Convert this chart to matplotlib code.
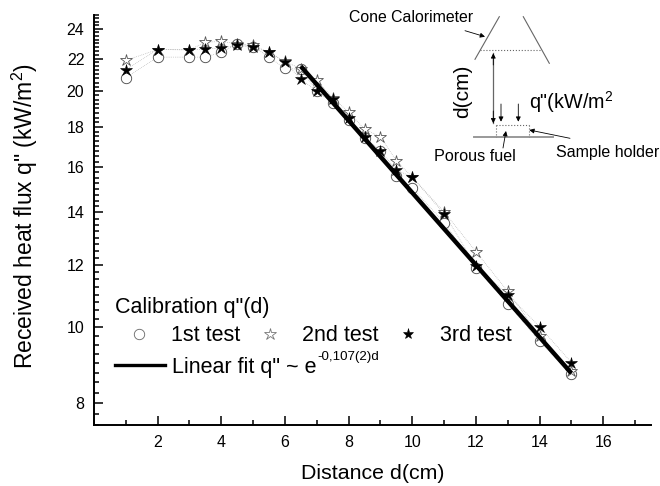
import matplotlib
matplotlib.use("Agg")
import matplotlib.pyplot as plt
from matplotlib.lines import Line2D
from matplotlib.ticker import FixedLocator, FixedFormatter, MultipleLocator, NullFormatter

plt.rcParams['font.family'] = ['Liberation Sans', 'DejaVu Sans']
plt.rcParams['mathtext.default'] = 'regular'

# Data
distance = [1, 2, 3, 3.5, 4, 4.5, 5, 5.5, 6, 6.5, 7, 7.5, 8, 8.5, 9, 9.5, 10, 11, 12, 13, 14, 15]
test1 = [20.80, 22.09, 22.09, 22.09, 22.41, 22.97, 22.79, 22.09, 21.37, 21.32, 20.00, 19.29,
         18.34, 17.44, 16.75, 15.58, 15.04, 13.59, 11.90, 10.71, 9.59, 8.70]
test2 = [21.88, 22.59, 22.57, 23.08, 23.13, 22.97, 22.86, 22.41, 21.81, 21.35, 20.63, 19.60,
         18.80, 17.88, 17.48, 16.29, 15.53, 14.02, 12.48, 11.10, 9.75, 8.79]
test3 = [21.29, 22.59, 22.57, 22.61, 22.70, 22.86, 22.75, 22.41, 21.77, 20.69, 20.00, 19.56,
         18.45, 17.48, 16.76, 15.86, 15.53, 13.94, 11.98, 11.00, 10.01, 9.01]
fit_d = [6.5, 15]
fit_q = [21.5, 8.73]

xticks = [2, 4, 6, 8, 10, 12, 14, 16]
yticks = [8, 10, 12, 14, 16, 18, 20, 22, 24]

W, H = 660, 486
fig = plt.figure(figsize=(W / 100, H / 100), dpi=100)
ax = fig.add_axes([94 / W, (H - 425) / H, (651 - 94) / W, (425 - 15) / H])

# Dotted connecting lines and markers
for vals in (test1, test2, test3):
    ax.plot(distance, vals, color='#aaaaaa', lw=0.5, ls=':', zorder=1)
ax.plot(distance, test1, ls='none', marker='o', ms=7.5, mfc='white', mec='#444444', mew=0.6, zorder=2)
ax.plot(distance, test2, ls='none', marker='*', ms=9, mfc='white', mec='#555555', mew=0.6, zorder=3)
ax.plot(distance, test3, ls='none', marker='*', ms=9, mfc='black', mec='black', mew=0.4, zorder=4)
ax.plot(fit_d, fit_q, color='black', lw=3.2, solid_capstyle='butt', zorder=5)

ax.set_yscale('log')
ax.set_xlim(0, 17.5)
ax.set_ylim(7.5, 25)
ax.xaxis.set_major_locator(FixedLocator(xticks))
ax.xaxis.set_minor_locator(MultipleLocator(1))
ax.yaxis.set_major_locator(FixedLocator(yticks))
ax.yaxis.set_major_formatter(FixedFormatter([str(t) for t in yticks]))
ax.yaxis.set_minor_locator(MultipleLocator(0.25))
ax.yaxis.set_minor_formatter(NullFormatter())

ax.spines['top'].set_visible(False)
ax.spines['right'].set_visible(False)
ax.spines['left'].set_linewidth(1.4)
ax.spines['bottom'].set_linewidth(1.4)
ax.tick_params(which='major', direction='in', length=6.5, width=1.1, labelsize=11.5, pad=7)
ax.tick_params(which='minor', direction='in', length=3.3, width=1.1)

ax.set_xlabel('Distance d(cm)', fontsize=15.4, labelpad=10.5)
ax.set_ylabel('Received heat flux q" (kW/m$^{2}$)', fontsize=16.5)
ax.yaxis.set_label_coords(-0.097, 0.51)

# Legend: title, marker row, fit row
fig.text(115 / W, 1 - 307 / H, 'Calibration q"(d)', fontsize=15.5, va='center')
h1 = Line2D([], [], ls='none', marker='o', ms=7.5, mfc='white', mec='#666666', mew=0.6)
h2 = Line2D([], [], ls='none', marker='*', ms=9, mfc='white', mec='#777777', mew=0.6)
h3 = Line2D([], [], ls='none', marker='*', ms=8, mfc='black', mec='black', mew=0.4)
h4 = Line2D([], [], color='black', lw=2.4)
leg1 = ax.legend([h1, h2, h3], ['1st test', '2nd test', '3rd test'], ncol=3, frameon=False,
                 fontsize=15.5, loc='center left', bbox_to_anchor=(0.0615, 0.2175),
                 handlelength=1, handletextpad=0.99, columnspacing=0.88, borderpad=0, borderaxespad=0)
ax.add_artist(leg1)
ax.legend([h4], ['Linear fit q" ~ e'], frameon=False, fontsize=15.5,
          loc='center left', bbox_to_anchor=(0.0377, 0.141), handlelength=2.33, handletextpad=0.33,
          borderpad=0, borderaxespad=0)

# Inset sketch of the set-up, placed in pixels
sk = fig.add_axes([0, 0, 1, 1], facecolor='none')
sk.set_xlim(0, W)
sk.set_ylim(H, 0)
sk.axis('off')
sk.text(317, 357, '-0,107(2)d', fontsize=9.6, va='center')
gray = '#666666'
sk.plot([499.3, 475], [16.7, 59.3], color=gray, lw=0.8)
sk.plot([523.3, 549.3], [16.7, 63.3], color=gray, lw=0.8)
sk.plot([480, 540], [50, 50], color=gray, lw=0.8, ls=':')
sk.plot([474.3, 553.3], [136.7, 136.7], color='#999999', lw=1.4)
sk.plot([496, 529.3], [125, 125], color=gray, lw=0.8, ls=':')
sk.plot([496, 496], [125, 136.7], color=gray, lw=0.8, ls=':')
sk.plot([529.3, 529.3], [125, 136.7], color=gray, lw=0.8, ls=':')
sk.plot([493.3, 493.3], [53.3, 123.3], color=gray, lw=0.9)


def arrow(x0, y0, x1, y1):
    sk.annotate('', xy=(x1, y1), xytext=(x0, y0),
                arrowprops=dict(arrowstyle='-|>', color='black', lw=0.6, mutation_scale=7, shrinkA=0, shrinkB=0))


arrow(493.3, 65, 493.3, 53.3)
arrow(493.3, 111, 493.3, 123.3)
arrow(465, 30.7, 485, 36.7)
arrow(501, 104, 501, 121.7)
arrow(518.3, 104, 518.3, 121.7)
arrow(570, 138.3, 529.3, 130)
arrow(503, 148, 506, 131)

sk.text(349, 17, 'Cone Calorimeter', fontsize=11.4, va='center')
sk.text(463, 91.5, 'd(cm)', fontsize=15, rotation=90, ha='center', va='center')
sk.text(529, 102, 'q"(kW/m$^{2}$', fontsize=14.2, va='center')
sk.text(434, 156, 'Porous fuel', fontsize=11.6, va='center')
sk.text(556, 152, 'Sample holder', fontsize=11.5, va='center')

fig.savefig('out.png', dpi=100)
